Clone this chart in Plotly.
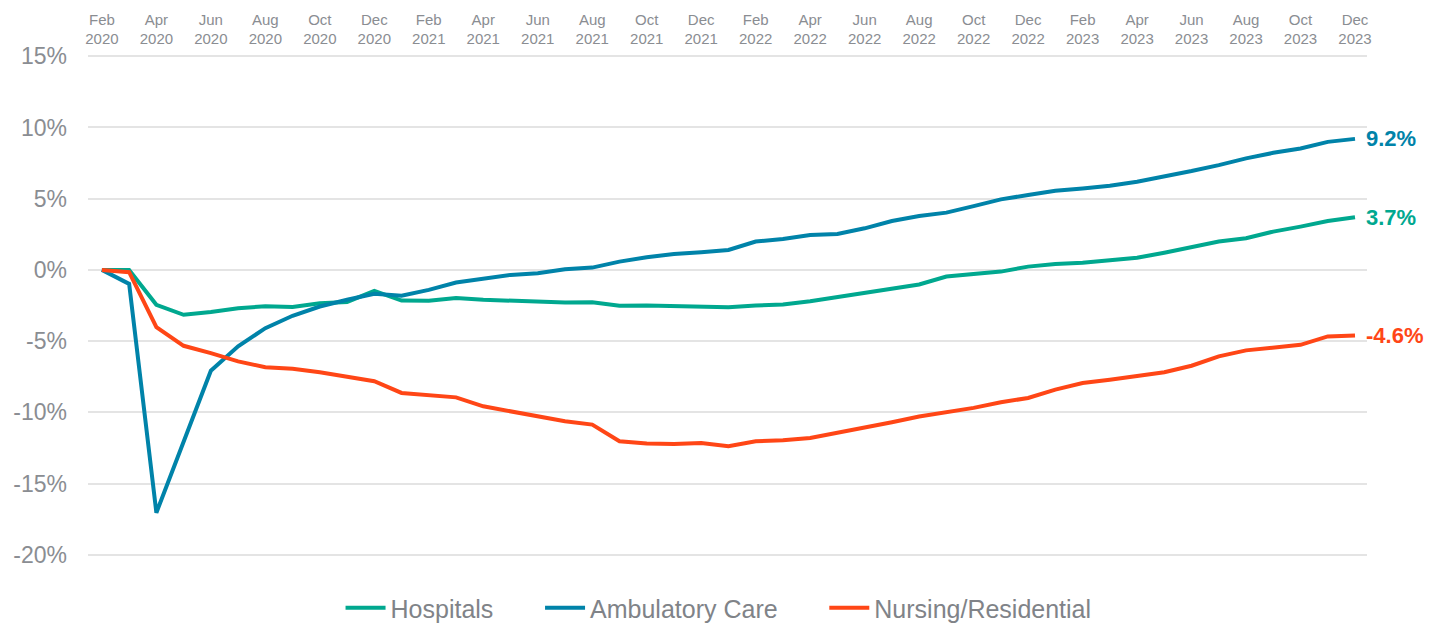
import plotly.graph_objects as go

months = ["Jan", "Feb", "Mar", "Apr", "May", "Jun", "Jul", "Aug", "Sep", "Oct", "Nov", "Dec"]
# Monthly periods Feb 2020 .. Dec 2023
periods = []
for y in range(2020, 2024):
    for m in range(12):
        if y == 2020 and m < 1:
            continue
        periods.append(f"{months[m]}<br>{y}")

hospitals = [0.0, 0.0, -2.45, -3.15, -2.95, -2.7, -2.55, -2.6, -2.35, -2.25, -1.48, -2.15,
             -2.17, -1.97, -2.1, -2.15, -2.2, -2.29, -2.27, -2.52, -2.5, -2.55, -2.58, -2.62,
             -2.5, -2.43, -2.2, -1.92, -1.57, -1.29, -1.02, -0.47, -0.28, -0.12, 0.23, 0.42,
             0.51, 0.7, 0.86, 1.21, 1.63, 1.99, 2.22, 2.69, 3.04, 3.43, 3.7]
ambulatory = [0.0, -0.98, -17.05, -12.0, -7.08, -5.37, -4.09, -3.22, -2.57, -2.1, -1.68, -1.82,
              -1.4, -0.89, -0.65, -0.35, -0.23, 0.05, 0.16, 0.58, 0.89, 1.12, 1.24, 1.4,
              1.99, 2.17, 2.45, 2.52, 2.92, 3.43, 3.78, 4.02, 4.48, 4.95, 5.26, 5.56,
              5.72, 5.91, 6.19, 6.54, 6.94, 7.36, 7.83, 8.22, 8.53, 8.99, 9.2]
nursing = [0.0, -0.16, -4.02, -5.33, -5.84, -6.42, -6.84, -6.94, -7.19, -7.47, -7.82, -8.64,
           -8.8, -8.95, -9.58, -9.93, -10.33, -10.63, -10.86, -12.03, -12.19, -12.22, -12.15, -12.38,
           -12.03, -11.96, -11.8, -11.45, -11.1, -10.7, -10.3, -10.0, -9.69, -9.3, -8.99, -8.41,
           -7.94, -7.71, -7.43, -7.19, -6.73, -6.07, -5.65, -5.49, -5.26, -4.67, -4.6]

series_names = ["Hospitals", "Ambulatory Care", "Nursing/Residential"]
series_values = [hospitals, ambulatory, nursing]
series_colors = ["#00A88F", "#0083A9", "#FF4616"]
end_labels = ["3.7%", "9.2%", "-4.6%"]

y_ticks = [15, 10, 5, 0, -5, -10, -15, -20]
y_tick_text = [f"{v}%" for v in y_ticks]

x_idx = list(range(len(periods)))
tick_vals = x_idx[::2]
tick_text = periods[::2]

fig = go.Figure()
for i, (name, vals, col) in enumerate(zip(series_names, series_values, series_colors)):
    label = name + ("\u00a0" * 6 if i < len(series_names) - 1 else "")
    fig.add_trace(go.Scatter(
        x=x_idx, y=vals, name=label, mode="lines",
        line=dict(color=col, width=4, shape="linear"),
        hoverinfo="skip",
    ))

for vals, col, lab in zip(series_values, series_colors, end_labels):
    fig.add_annotation(
        x=x_idx[-1], y=vals[-1], text=f"<b>{lab}</b>", showarrow=False,
        xanchor="left", yanchor="middle", xshift=9,
        font=dict(family="Liberation Sans, Arial, sans-serif", size=22, color=col),
    )

fig.update_layout(
    width=1440, height=623,
    paper_bgcolor="white", plot_bgcolor="white",
    margin=dict(l=80, r=81, t=44, b=72, autoexpand=False),
    showlegend=True,
    legend=dict(
        orientation="h", x=0.493, xanchor="center",
        yref="container", y=0.0, yanchor="bottom",
        font=dict(family="Liberation Sans, Arial, sans-serif", size=25, color="#808388"),
        itemwidth=40, tracegroupgap=0,
    ),
    xaxis=dict(
        side="top", range=[-0.51, 46.44], automargin=False,
        tickmode="array", tickvals=tick_vals, ticktext=tick_text,
        showgrid=False, zeroline=False, showline=False, ticks="",
        tickfont=dict(family="Liberation Sans, Arial, sans-serif", size=15, color="#8a8d92"),
        ticklabelstandoff=4,
    ),
    yaxis=dict(
        range=[-20.3, 15.3], automargin=False,
        tickmode="array", tickvals=y_ticks, ticktext=y_tick_text,
        showgrid=True, gridcolor="#e4e4e4", gridwidth=2,
        zeroline=True, zerolinecolor="#e4e4e4", zerolinewidth=2,
        showline=False, ticks="",
        tickfont=dict(family="Liberation Sans, Arial, sans-serif", size=23, color="#8a8d92"),
        ticklabelstandoff=20,
    ),
)

fig.write_html("out.html")
